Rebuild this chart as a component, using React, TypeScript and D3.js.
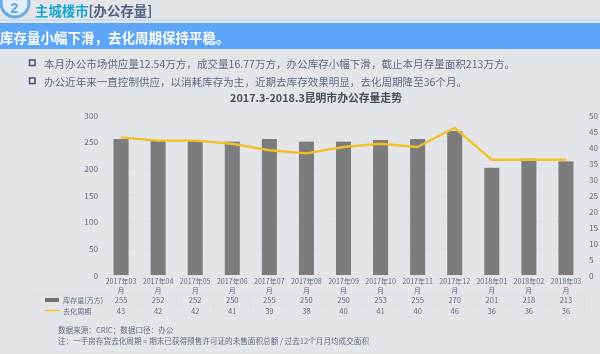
import React from "react";
import * as d3 from "d3";

const categories = ["2017年03", "2017年04", "2017年05", "2017年06", "2017年07", "2017年08", "2017年09", "2017年10", "2017年11", "2017年12", "2018年01", "2018年02", "2018年03"];
const stock = [255, 252, 252, 250, 255, 250, 250, 253, 255, 270, 201, 218, 213];
const cycle = [43, 42, 42, 41, 39, 38, 40, 41, 40, 46, 36, 36, 36];
const leftTicks = [0, 50, 100, 150, 200, 250, 300];
const rightTicks = [0, 5, 10, 15, 20, 25, 30, 35, 40, 45, 50];
const bullets = [
  "本月办公市场供应量12.54万方，成交量16.77万方，办公库存小幅下滑，截止本月存量面积213万方。",
  "办公近年来一直控制供应，以消耗库存为主，近期去库存效果明显，去化周期降至36个月。",
];
const font = "'Noto Sans CJK SC', 'Noto Sans', sans-serif";
const textCol = "#5f6b85";
const rule = "#dfe0e4";

export default function App() {
  const left = 102.5;
  const right = 584.5;
  const x = d3.scaleBand<string>().domain(categories).range([left, right]).paddingInner(0.595).paddingOuter(0.2975);
  const yL = d3.scaleLinear().domain([0, 300]).range([275, 115]);
  const yR = d3.scaleLinear().domain([0, 50]).range([275, 115]);
  const cx = (c: string) => (x(c) as number) + x.bandwidth() / 2;
  const line = d3.line<number>().x((_, i) => cx(categories[i])).y((d) => yR(d));
  const step = x.step();
  const tableX = [30, left, ...categories.map((_, i) => left + (i + 1) * step)];
  return (
    <svg width={600} height={354} style={{ position: "fixed", left: 0, top: 0, display: "block" }} fontFamily={font}>
      <defs>
        <filter id="soft" x="-2%" y="-2%" width="104%" height="104%">
          <feGaussianBlur stdDeviation="0.35" />
        </filter>
      </defs>
      <rect width={600} height={354} fill="#e4e5e9" />
      <g filter="url(#soft)">
        <rect x={0} y={19} width={600} height={2} fill="#c9dff2" />
        <rect x={0} y={23} width={600} height={26} fill="#5da5f8" />
        <circle cx={15} cy={3} r={14} fill="#e4eefa" stroke="#6aaee8" strokeWidth={3} />
        <text x={14.5} y={13} textAnchor="middle" fontSize={14} fontWeight={700} fontFamily="'Liberation Sans', sans-serif" fill="#5aa5e8">2</text>
        <text x={35} y={15.5} fontSize={13.4} fontWeight={700} fill="#12a6d6">主城楼市<tspan fill="#4d6080">[办公存量]</tspan></text>
        <text x={0} y={43} fontSize={13.5} fontWeight={700} fill="#ffffff">库存量小幅下滑，去化周期保持平稳。</text>

        {bullets.map((b, i) => (
          <g key={i}>
            <rect x={29.5} y={60 + i * 18} width={5.5} height={5.5} fill="none" stroke="#4a5878" strokeWidth={1.6} />
            <text x={44} y={67.5 + i * 18} fontSize={10.55} fill={textCol}>{b}</text>
          </g>
        ))}
        <text x={316} y={101.5} textAnchor="middle" fontSize={10.8} fontWeight={700} fill="#46505f">2017.3-2018.3昆明市办公存量走势</text>

        {leftTicks.map((t) => (
          <g key={t}>
            <line x1={left} x2={right} y1={yL(t)} y2={yL(t)} stroke={rule} strokeWidth={1} />
            <text x={98} y={yL(t) + 3.5} textAnchor="end" fontSize={8.2} fill={textCol}>{t}</text>
          </g>
        ))}
        {rightTicks.map((t) => (
          <text key={t} x={589} y={yR(t) + 3.5} fontSize={8.2} fill={textCol}>{t}</text>
        ))}

        {stock.map((v, i) => (
          <rect key={i} x={x(categories[i])} y={yL(v)} width={x.bandwidth()} height={yL(0) - yL(v)} fill="#7b7b7b" />
        ))}
        <path d={line(cycle) as string} fill="none" stroke="#f4bf26" strokeWidth={2.4} strokeLinejoin="round" />

        {categories.map((c) => (
          <g key={c} fontSize={7.1} fill={textCol} textAnchor="middle">
            <text x={cx(c)} y={283.5}>{c}</text>
            <text x={cx(c)} y={292.5}>月</text>
          </g>
        ))}

        {[295, 305.5, 316].map((y) => (
          <line key={y} x1={30} x2={right} y1={y} y2={y} stroke={rule} />
        ))}
        {tableX.map((tx) => (
          <line key={tx} x1={tx} x2={tx} y1={295} y2={316} stroke={rule} />
        ))}
        <rect x={45} y={298} width={14} height={4} fill="#6f6f6f" />
        <line x1={45} x2={60} y1={310.5} y2={310.5} stroke="#f4bf26" strokeWidth={1.5} />
        <text x={63} y={303} fontSize={7.1} fill={textCol}>库存量(万方)</text>
        <text x={63} y={313.5} fontSize={7.1} fill={textCol}>去化周期</text>
        {categories.map((c, i) => (
          <g key={c} fontSize={7.6} fill={textCol} textAnchor="middle">
            <text x={cx(c)} y={303}>{stock[i]}</text>
            <text x={cx(c)} y={313.5}>{cycle[i]}</text>
          </g>
        ))}

        <text x={58} y={332.5} fontSize={7.6} fill={textCol}>数据来源：CRIC；数据口径：办公</text>
        <text x={58} y={343.5} fontSize={7.6} fill={textCol}>注：一手房存货去化周期 = 期末已获得预售许可证的未售面积总额 / 过去12个月月均成交面积</text>
      </g>
    </svg>
  );
}
